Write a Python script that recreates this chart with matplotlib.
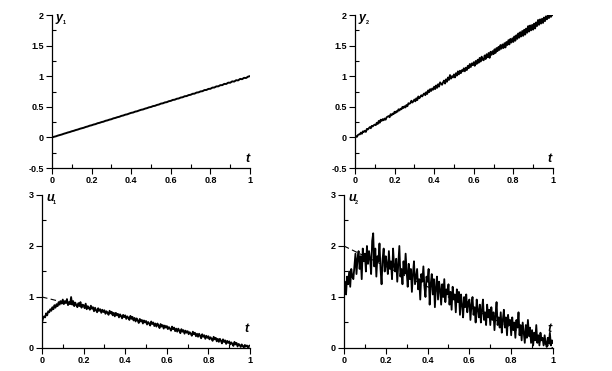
import numpy as np
import matplotlib
matplotlib.use("Agg")
import matplotlib.pyplot as plt
from matplotlib.ticker import MultipleLocator, FormatStrFormatter
from matplotlib import transforms

plt.rcParams['font.family'] = ['Liberation Sans', 'DejaVu Sans']

t_coarse = np.linspace(0, 1, 101)
t_fine = np.linspace(0, 1, 201)

y1 = [0.000, 0.011, 0.019, 0.031, 0.040, 0.049, 0.061, 0.070, 0.081, 0.089,
      0.101, 0.109, 0.121, 0.129, 0.141, 0.150, 0.158, 0.171, 0.179, 0.192,
      0.199, 0.211, 0.218, 0.232, 0.239, 0.251, 0.258, 0.272, 0.279, 0.291,
      0.298, 0.312, 0.319, 0.331, 0.338, 0.352, 0.359, 0.372, 0.378, 0.391,
      0.402, 0.408, 0.422, 0.428, 0.441, 0.452, 0.458, 0.471, 0.479, 0.492,
      0.498, 0.512, 0.517, 0.531, 0.538, 0.553, 0.558, 0.572, 0.577, 0.592,
      0.598, 0.613, 0.617, 0.632, 0.637, 0.652, 0.657, 0.673, 0.676, 0.692,
      0.697, 0.713, 0.716, 0.733, 0.737, 0.752, 0.756, 0.774, 0.776, 0.793,
      0.795, 0.814, 0.816, 0.834, 0.835, 0.854, 0.855, 0.875, 0.874, 0.895,
      0.894, 0.916, 0.913, 0.935, 0.932, 0.956, 0.952, 0.974, 0.971, 0.993, 1.002]

y2 = [0.00, 0.02, 0.01, 0.04, 0.05, 0.05, 0.08, 0.06, 0.10, 0.09,
      0.11, 0.09, 0.14, 0.13, 0.15, 0.17, 0.15, 0.19, 0.18, 0.20,
      0.21, 0.20, 0.24, 0.22, 0.27, 0.24, 0.29, 0.27, 0.30, 0.28,
      0.31, 0.29, 0.33, 0.34, 0.35, 0.33, 0.38, 0.36, 0.39, 0.38,
      0.42, 0.40, 0.43, 0.42, 0.46, 0.44, 0.47, 0.46, 0.50, 0.48,
      0.51, 0.49, 0.53, 0.51, 0.56, 0.55, 0.56, 0.60, 0.57, 0.59,
      0.62, 0.59, 0.64, 0.61, 0.67, 0.64, 0.66, 0.69, 0.67, 0.70,
      0.72, 0.69, 0.74, 0.71, 0.77, 0.74, 0.79, 0.76, 0.80, 0.78,
      0.83, 0.79, 0.85, 0.81, 0.87, 0.83, 0.90, 0.88, 0.86, 0.90,
      0.93, 0.88, 0.95, 0.91, 0.98, 0.94, 1.02, 0.96, 1.00, 0.98,
      1.03, 0.98, 1.05, 1.01, 1.08, 1.03, 1.09, 1.05, 1.10, 1.08,
      1.13, 1.08, 1.14, 1.10, 1.17, 1.13, 1.20, 1.15, 1.21, 1.18,
      1.23, 1.17, 1.25, 1.20, 1.27, 1.22, 1.30, 1.24, 1.32, 1.27,
      1.26, 1.34, 1.28, 1.36, 1.31, 1.38, 1.30, 1.40, 1.35, 1.41,
      1.36, 1.44, 1.38, 1.46, 1.41, 1.48, 1.43, 1.51, 1.45, 1.52,
      1.46, 1.54, 1.47, 1.56, 1.51, 1.59, 1.52, 1.61, 1.55, 1.62,
      1.56, 1.65, 1.58, 1.67, 1.61, 1.70, 1.63, 1.72, 1.65, 1.74,
      1.66, 1.76, 1.68, 1.78, 1.71, 1.82, 1.73, 1.83, 1.75, 1.84,
      1.76, 1.86, 1.78, 1.88, 1.82, 1.92, 1.84, 1.93, 1.86, 1.94,
      1.87, 1.96, 1.90, 1.98, 1.93, 2.00, 1.95, 2.01, 1.97, 2.00, 2.00]

u1 = [0.50, 0.58, 0.62, 0.60, 0.68, 0.64, 0.72, 0.70, 0.76, 0.73,
      0.80, 0.76, 0.84, 0.79, 0.86, 0.82, 0.90, 0.85, 0.92, 0.87,
      0.95, 0.86, 0.92, 0.88, 0.96, 0.84, 0.90, 0.86, 1.00, 0.85,
      0.92, 0.82, 0.89, 0.84, 0.80, 0.88, 0.83, 0.90, 0.79, 0.85,
      0.84, 0.78, 0.87, 0.76, 0.82, 0.79, 0.75, 0.83, 0.77, 0.80,
      0.72, 0.79, 0.74, 0.70, 0.78, 0.73, 0.76, 0.69, 0.75, 0.71,
      0.74, 0.67, 0.72, 0.69, 0.65, 0.73, 0.68, 0.71, 0.64, 0.69,
      0.62, 0.69, 0.64, 0.67, 0.60, 0.66, 0.63, 0.58, 0.65, 0.61,
      0.64, 0.57, 0.62, 0.59, 0.55, 0.63, 0.58, 0.61, 0.54, 0.59,
      0.52, 0.58, 0.54, 0.49, 0.57, 0.52, 0.55, 0.48, 0.54, 0.50,
      0.53, 0.46, 0.51, 0.48, 0.44, 0.52, 0.47, 0.50, 0.43, 0.48,
      0.42, 0.48, 0.44, 0.39, 0.47, 0.42, 0.45, 0.38, 0.44, 0.40,
      0.43, 0.37, 0.41, 0.38, 0.34, 0.42, 0.37, 0.40, 0.33, 0.38,
      0.32, 0.38, 0.34, 0.29, 0.37, 0.32, 0.35, 0.28, 0.34, 0.30,
      0.33, 0.27, 0.31, 0.28, 0.24, 0.32, 0.27, 0.30, 0.23, 0.28,
      0.22, 0.28, 0.24, 0.19, 0.27, 0.22, 0.25, 0.18, 0.24, 0.20,
      0.23, 0.17, 0.21, 0.18, 0.14, 0.22, 0.17, 0.20, 0.13, 0.18,
      0.12, 0.18, 0.14, 0.09, 0.17, 0.12, 0.15, 0.08, 0.14, 0.10,
      0.13, 0.07, 0.11, 0.08, 0.04, 0.12, 0.07, 0.10, 0.03, 0.08,
      0.06, 0.02, 0.07, 0.04, 0.01, 0.06, 0.03, 0.05, 0.01, 0.04, 0.05]

u2 = [1.00, 1.30, 1.05, 1.40, 1.25, 1.50, 1.20, 1.55, 1.40, 1.35,
      1.60, 1.85, 1.45, 1.75, 1.90, 1.55, 1.80, 1.35, 1.95, 1.70,
      1.85, 1.50, 2.00, 1.65, 1.90, 1.75, 1.45, 2.10, 2.25, 1.60,
      1.95, 1.40, 1.80, 1.70, 2.05, 1.55, 1.25, 1.75, 1.95, 1.50,
      1.80, 1.65, 1.45, 1.90, 1.55, 1.70, 1.35, 1.95, 1.60, 1.50,
      1.75, 1.30, 1.65, 2.00, 1.40, 1.55, 1.25, 1.70, 1.45, 1.85,
      1.50, 1.20, 1.65, 1.35, 1.55, 1.10, 1.45, 1.70, 1.25, 1.40,
      1.55, 1.15, 1.35, 0.95, 1.45, 1.30, 1.60, 1.20, 1.00, 1.40,
      1.30, 1.55, 0.85, 1.25, 1.45, 1.05, 1.35, 0.80, 1.20, 1.40,
      0.95, 1.30, 1.15, 0.85, 1.25, 1.00, 1.35, 0.90, 1.15, 1.05,
      1.25, 0.85, 1.10, 0.75, 1.20, 0.95, 1.05, 0.70, 1.15, 0.90,
      1.10, 0.65, 1.05, 0.85, 0.60, 1.00, 0.80, 1.05, 0.70, 0.90,
      0.95, 0.55, 0.85, 1.00, 0.65, 0.80, 0.50, 0.95, 0.75, 0.60,
      0.85, 0.50, 0.75, 0.95, 0.55, 0.70, 0.45, 0.85, 0.60, 0.75,
      0.45, 0.80, 0.55, 0.70, 0.35, 0.65, 0.90, 0.45, 0.60, 0.40,
      0.70, 0.30, 0.55, 0.75, 0.40, 0.60, 0.25, 0.65, 0.45, 0.55,
      0.25, 0.60, 0.35, 0.50, 0.20, 0.55, 0.40, 0.70, 0.25, 0.45,
      0.15, 0.50, 0.30, 0.10, 0.45, 0.20, 0.55, 0.25, 0.40, 0.10,
      0.35, 0.05, 0.30, 0.15, 0.45, 0.10, 0.25, 0.05, 0.30, 0.15,
      0.20, 0.05, 0.25, 0.10, 0.02, 0.20, 0.08, 0.30, 0.05, 0.15, 0.10]

ref_t = [0, 1]
u1_ref = [1, 0]
u2_ref = [2, 0]

fig = plt.figure(figsize=(6.12, 3.71), dpi=100)

def mk(rect, ylim, ymaj, ymin_, name, sub, tpos):
    ax = fig.add_axes(rect)
    ax.set_xlim(0, 1)
    ax.set_ylim(*ylim)
    for s in ['top', 'right']:
        ax.spines[s].set_visible(False)
    for s in ['left', 'bottom']:
        ax.spines[s].set_linewidth(0.9)
    ax.xaxis.set_major_locator(MultipleLocator(0.2))
    ax.xaxis.set_minor_locator(MultipleLocator(0.1))
    ax.yaxis.set_major_locator(MultipleLocator(ymaj))
    ax.yaxis.set_minor_locator(MultipleLocator(ymin_))
    ax.xaxis.set_major_formatter(FormatStrFormatter('%g'))
    ax.yaxis.set_major_formatter(FormatStrFormatter('%g'))
    ax.tick_params(which='major', direction='out', length=4, width=0.8,
                   labelsize=6.5, pad=2)
    ax.tick_params(which='minor', direction='in', length=3, width=0.8)
    for lab in ax.get_xticklabels() + ax.get_yticklabels():
        lab.set_fontweight('bold')
    tr = ax.transAxes
    ax.text(0.02, 1.02, name, transform=tr, fontsize=9, style='italic',
            fontweight='bold', va='top', ha='left')
    ax.text(0.02, 1.02, sub,
            transform=transforms.offset_copy(tr, fig=fig, x=6.5, y=-8.5, units='dots'),
            fontsize=4, fontweight='bold', va='top', ha='left')
    ax.text(0.985, tpos, 't', transform=tr, fontsize=9, style='italic',
            fontweight='bold', va='bottom', ha='center')
    return ax

ax1 = mk([0.085, 0.547, 0.3235, 0.4125], (-0.5, 2), 0.5, 0.25, 'y', '1', 0.02)
ax1.plot(t_coarse, y1, color='black', lw=1.4)

ax2 = mk([0.580, 0.547, 0.3235, 0.4125], (-0.5, 2), 0.5, 0.25, 'y', '2', 0.02)
ax2.plot(t_fine, y2, color='black', lw=1.3)

ax3 = mk([0.0686, 0.062, 0.340, 0.4124], (0, 3), 1, 0.5, 'u', '1', 0.085)
ax3.plot(ref_t, u1_ref, color='black', lw=0.8, ls=(0, (5, 3)))
ax3.plot(t_fine, u1, color='black', lw=1.3)

ax4 = mk([0.562, 0.062, 0.3416, 0.4124], (0, 3), 1, 0.5, 'u', '2', 0.085)
ax4.plot(ref_t, u2_ref, color='black', lw=0.8, ls=(0, (5, 3)))
ax4.plot(t_fine, u2, color='black', lw=1.3)

fig.savefig('out.png', dpi=100)
